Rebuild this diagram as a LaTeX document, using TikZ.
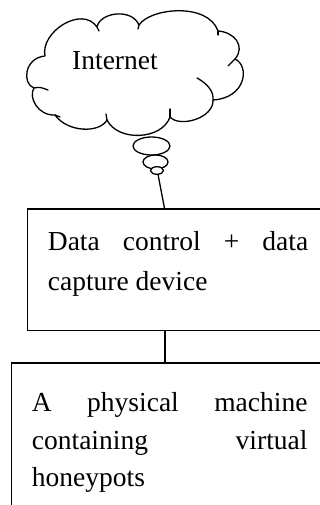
\documentclass[tikz,border=0pt]{standalone}
\usepackage{fontspec}
\setmainfont{Liberation Serif}
\begin{document}
\begin{tikzpicture}[x=1pt,y=-1pt,
  outline/.style={line width=1.3pt,line join=round,line cap=round},
  panel/.style={draw,line width=1.4pt,rectangle,inner sep=0pt,anchor=north west},
  txt/.style={anchor=base west,inner sep=0pt,font=\fontsize{27.5}{33}\selectfont},
  link/.style={line width=1.3pt}]
\useasboundingbox (0,0) rectangle (320,505);
\clip (0,0) rectangle (320,505);

% cloud outline, lobe by lobe
\draw[outline,fill=white] (45,56)
  .. controls (40,32) and (82,5) .. (97,27)
  .. controls (100,12) and (132,8) .. (139,25)
  .. controls (150,8) and (208,2) .. (218,31)
  .. controls (234,32) and (246,46) .. (235,59)
  .. controls (250,66) and (246,98) .. (213,100)
  .. controls (214,118) and (180,128) .. (170,117)
  .. controls (162,140) and (118,142) .. (107,120)
  .. controls (100,133) and (68,133) .. (55,115)
  .. controls (38,116) and (28,97) .. (34,88)
  .. controls (22,84) and (24,58) .. cycle;
% inner strokes of the lobes
\draw[outline] (34,88) .. controls (40,87) .. (48,90);
\draw[outline] (235,59) -- (228,66);
\draw[outline] (197,78) .. controls (208,84) and (214,92) .. (213,100);
\draw[outline] (170,117) -- (170,109);
\draw[outline] (107,120) -- (106,114);
\draw[outline] (97,27) -- (99,31);
\draw[outline] (139,25) -- (138,29);
\draw[outline] (218,31) -- (218,35);
\draw[outline] (55,115) -- (60,117);

% thought bubbles
\draw[outline,fill=white] (151.5,146) ellipse [x radius=18.5,y radius=9];
\draw[outline,fill=white] (155.5,162) ellipse [x radius=12.5,y radius=7];
\draw[outline,fill=white] (157,170.5) ellipse [x radius=6.5,y radius=3.8];
\coordinate (tail) at (158,174.3);

\node[txt] (inet) at (72,69.5) {Internet};

% device box
\node[panel,minimum width=302.3pt,minimum height=121.7pt] (dev) at (26.7,208.3) {};
\node[txt] (dev1) at (47.7,250.7) {\makebox[260.3pt][s]{Data control + data}};
\node[txt] (dev2) at (47.7,290) {capture device};

% machine box
\node[panel,minimum width=317pt,minimum height=160pt] (mach) at (11,362.3) {};
\node[txt] (mach1) at (31.7,411.7) {\makebox[275.6pt][s]{A physical machine}};
\node[txt] (mach2) at (31.7,449.5) {\makebox[275.6pt][s]{containing virtual}};
\node[txt] (mach3) at (31.7,486.7) {honeypots};

% connectors
\draw[link] (tail) -- (dev.north west -| 164.5,0);
\draw[link] (dev.south west -| 165,0) -- (mach.north west -| 165,0);
\end{tikzpicture}
\end{document}
